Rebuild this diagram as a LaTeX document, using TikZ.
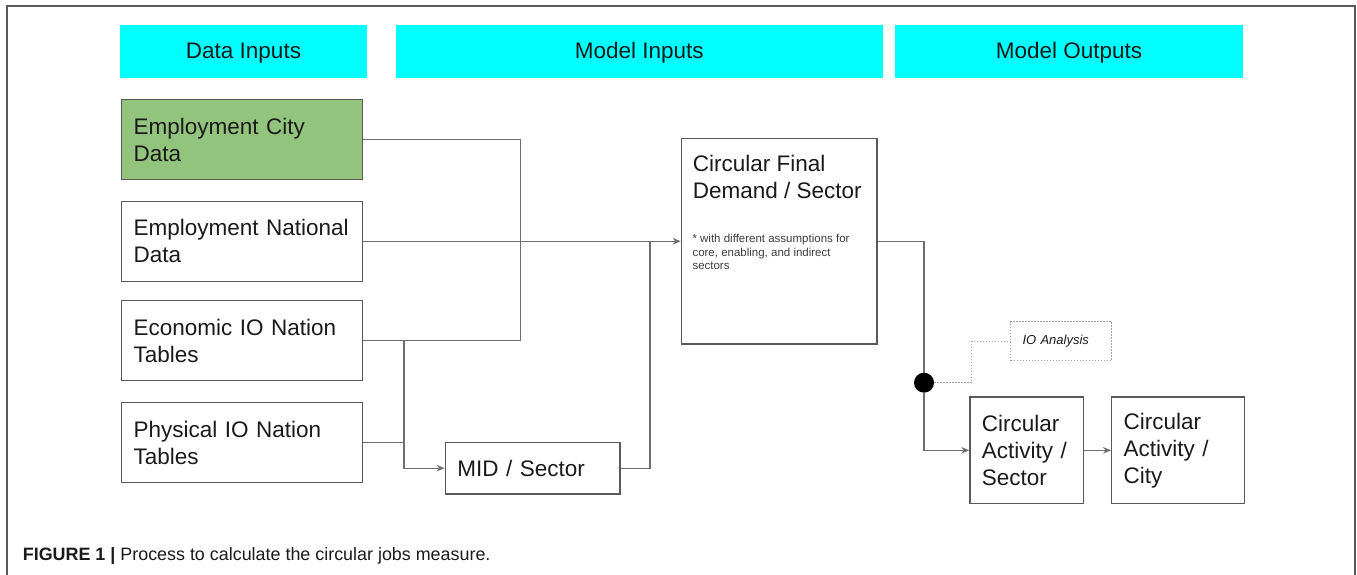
\documentclass[tikz,border=0pt]{standalone}
\usepackage{fontspec}
\setmainfont{Liberation Sans}
\usetikzlibrary{arrows.meta,calc}

\definecolor{hdrcyan}{HTML}{00FFFF}
\definecolor{cityfill}{HTML}{93C47D}
\definecolor{edgegray}{HTML}{595959}
\definecolor{wiregray}{HTML}{6E6E6E}
\definecolor{dotgray}{HTML}{A0A0A0}
\definecolor{framegray}{HTML}{5A5A5A}
\definecolor{ink}{HTML}{1A1A1A}

\newcommand\hdrfont{\fontsize{22.5}{27}\selectfont}
\newcommand\boxfont{\fontsize{22.5}{27}\selectfont}
\newcommand\notefont{\fontsize{11.5}{13.7}\selectfont}
\newcommand\iofont{\fontsize{13}{15}\selectfont\itshape}
\newcommand\capfont{\fontsize{17.9}{21}\selectfont}

\begin{document}
\begin{tikzpicture}[x=1pt,y=-1pt,
  hdr/.style={fill=hdrcyan, inner sep=0pt, minimum height=52.5pt,
    font=\hdrfont, text=ink, text height=16pt, text depth=3pt},
  stagebox/.style={draw=edgegray, line width=1.3pt, inner ysep=0pt,
    inner xsep=12pt, align=left, font=\boxfont, text=ink, anchor=north west},
  iobox/.style={draw=dotgray, line width=1pt, dash pattern=on 1.5pt off 1.5pt,
    inner ysep=0pt, inner xsep=12pt, align=left, font=\iofont, text=ink,
    anchor=north west},
  wire/.style={draw=wiregray, line width=1.3pt},
  feed/.style={wire, -{Stealth[length=8pt,width=6.5pt]}},
  dotwire/.style={draw=dotgray, line width=1pt, dash pattern=on 1.5pt off 1.5pt},
]
\useasboundingbox (0,0) rectangle (1357,575);

% outer frame, open at the bottom
\draw[framegray, line width=1.3pt] (7,575) -- (7,6) -- (1355,6) -- (1355,575);

% stage headers
\node[hdr, minimum width=247.8pt] (hdata)  at (243.5,51.75)  {Data Inputs};
\node[hdr, minimum width=486.7pt] (hmodin) at (639.35,51.75) {Model Inputs};
\node[hdr, minimum width=348pt]   (hmodout) at (1069,51.75)  {Model Outputs};

% data inputs
\node[stagebox, fill=cityfill, text width=217pt, minimum height=80pt] (city) at (121,99)    {Employment City\\Data};
\node[stagebox, text width=217pt, minimum height=80pt]                (natl) at (121,200.6) {Employment National\\Data};
\node[stagebox, text width=217pt, minimum height=80pt]                (econ) at (121,300)   {Economic IO Nation\\Tables};
\node[stagebox, text width=217pt, minimum height=80pt]                (phys) at (121,402)   {Physical IO Nation\\Tables};

% model inputs
\node[stagebox, text width=150.6pt, minimum height=51.6pt] (mid) at (444.7,441.7) {MID / Sector};
\node[stagebox, minimum width=195.6pt, minimum height=205.3pt] (cfd) at (680.7,138) {};
\node[anchor=north west, inner sep=0pt, align=left, font=\boxfont, text=ink]
  (cfdtitle) at ($(cfd.north west)+(12,17.3)$) {Circular Final\\Demand / Sector};
\node[anchor=north west, inner sep=0pt, align=left, font=\notefont, text=ink!85]
  (cfdnote) at ($(cfd.north west)+(11.6,95.9)$) {* with different assumptions for\\core, enabling, and indirect\\sectors};

% model outputs
\node[circle, fill=black, minimum size=20pt, inner sep=0pt] (hub) at (924,382.7) {};
\node[iobox, text width=77.3pt, minimum height=38.7pt] (io) at (1010,321.3) {IO Analysis};
\node[stagebox, text width=89.4pt, minimum height=106.7pt] (cas) at (969.3,396.3) {Circular\\Activity /\\Sector};
\node[stagebox, text width=109pt, minimum height=106.7pt]  (cac) at (1111,396.3)  {Circular\\Activity /\\City};

% bus lines
\coordinate (busA) at (520.5,241);
\coordinate (busB) at (404,341);
\coordinate (busC) at (650,241);
\coordinate (busD) at (971.7,341);

% connectors
\draw[wire] (city.east) -- (city.east -| busA) -- (econ.east -| busA);
\draw[wire] (econ.east) -- (econ.east -| busA);
\draw[feed] (natl.east) -- (natl.east -| cfd.west);
\draw[feed] (econ.east -| busB) |- (mid.west);
\draw[wire] (phys.east) -- (phys.east -| busB);
\draw[wire] (mid.east) -| (natl.east -| busC);
\draw[wire] (cfd.east) -| (hub);
\draw[feed] (hub) |- (cas.west);
\draw[dotwire] (hub) -- (hub -| busD) -- (io.west -| busD) -- (io.west);
\draw[feed] (cas) -- (cac);

% caption
\node[anchor=base west, inner sep=0pt, font=\capfont, text=ink] (caption) at (22.7,560)
  {\textbf{FIGURE 1 |} Process to calculate the circular jobs measure.};
\end{tikzpicture}
\end{document}
